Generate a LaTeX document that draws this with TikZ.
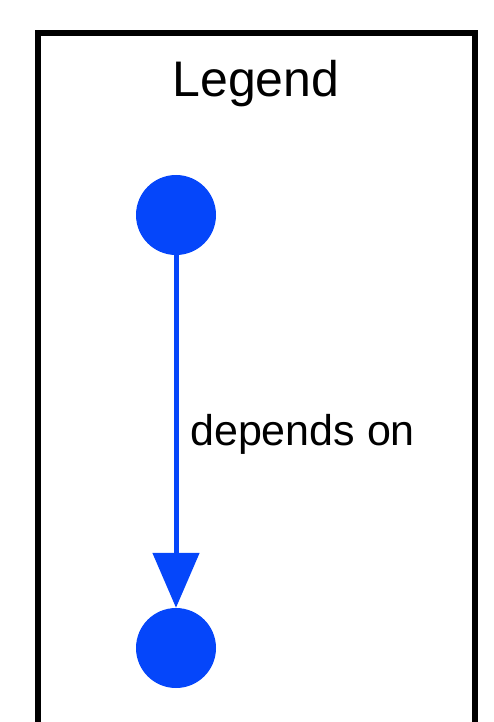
\documentclass[tikz,border=0pt]{standalone}
\usepackage{fontspec}
\setmainfont{Liberation Sans}
\usetikzlibrary{arrows.meta}
\definecolor{depblue}{RGB}{5,70,250}
\tikzset{
  legendframe/.style={draw=black, line width=6pt},
  dot/.style={circle, fill=depblue, minimum size=80pt, inner sep=0pt},
  dependency/.style={draw=depblue, line width=5pt,
    -{Triangle[length=55pt, width=46pt]}},
  caption/.style={inner sep=0pt, anchor=base west, font=\fontsize{43pt}{49pt}\selectfont}
}
\begin{document}
\begin{tikzpicture}[x=1pt, y=1pt]
  \useasboundingbox (0,0) rectangle (494,-722);
  \clip (0,0) rectangle (494,-722);
  % frame of the legend, open at the bottom edge of the page
  \draw[legendframe] (37.5,-760) -- (37.5,-33) -- (475,-33) -- (475,-760);
  \node[inner sep=0pt, anchor=base, font=\fontsize{50pt}{56pt}\selectfont] (title) at (256,-96.5) {Legend};
  \node[dot] (from) at (176,-215) {};
  \node[dot] (to) at (176,-648) {};
  \draw[dependency] (from) -- (to);
  \node[caption] (lbl) at (190,-445) {depends on};
\end{tikzpicture}
\end{document}
